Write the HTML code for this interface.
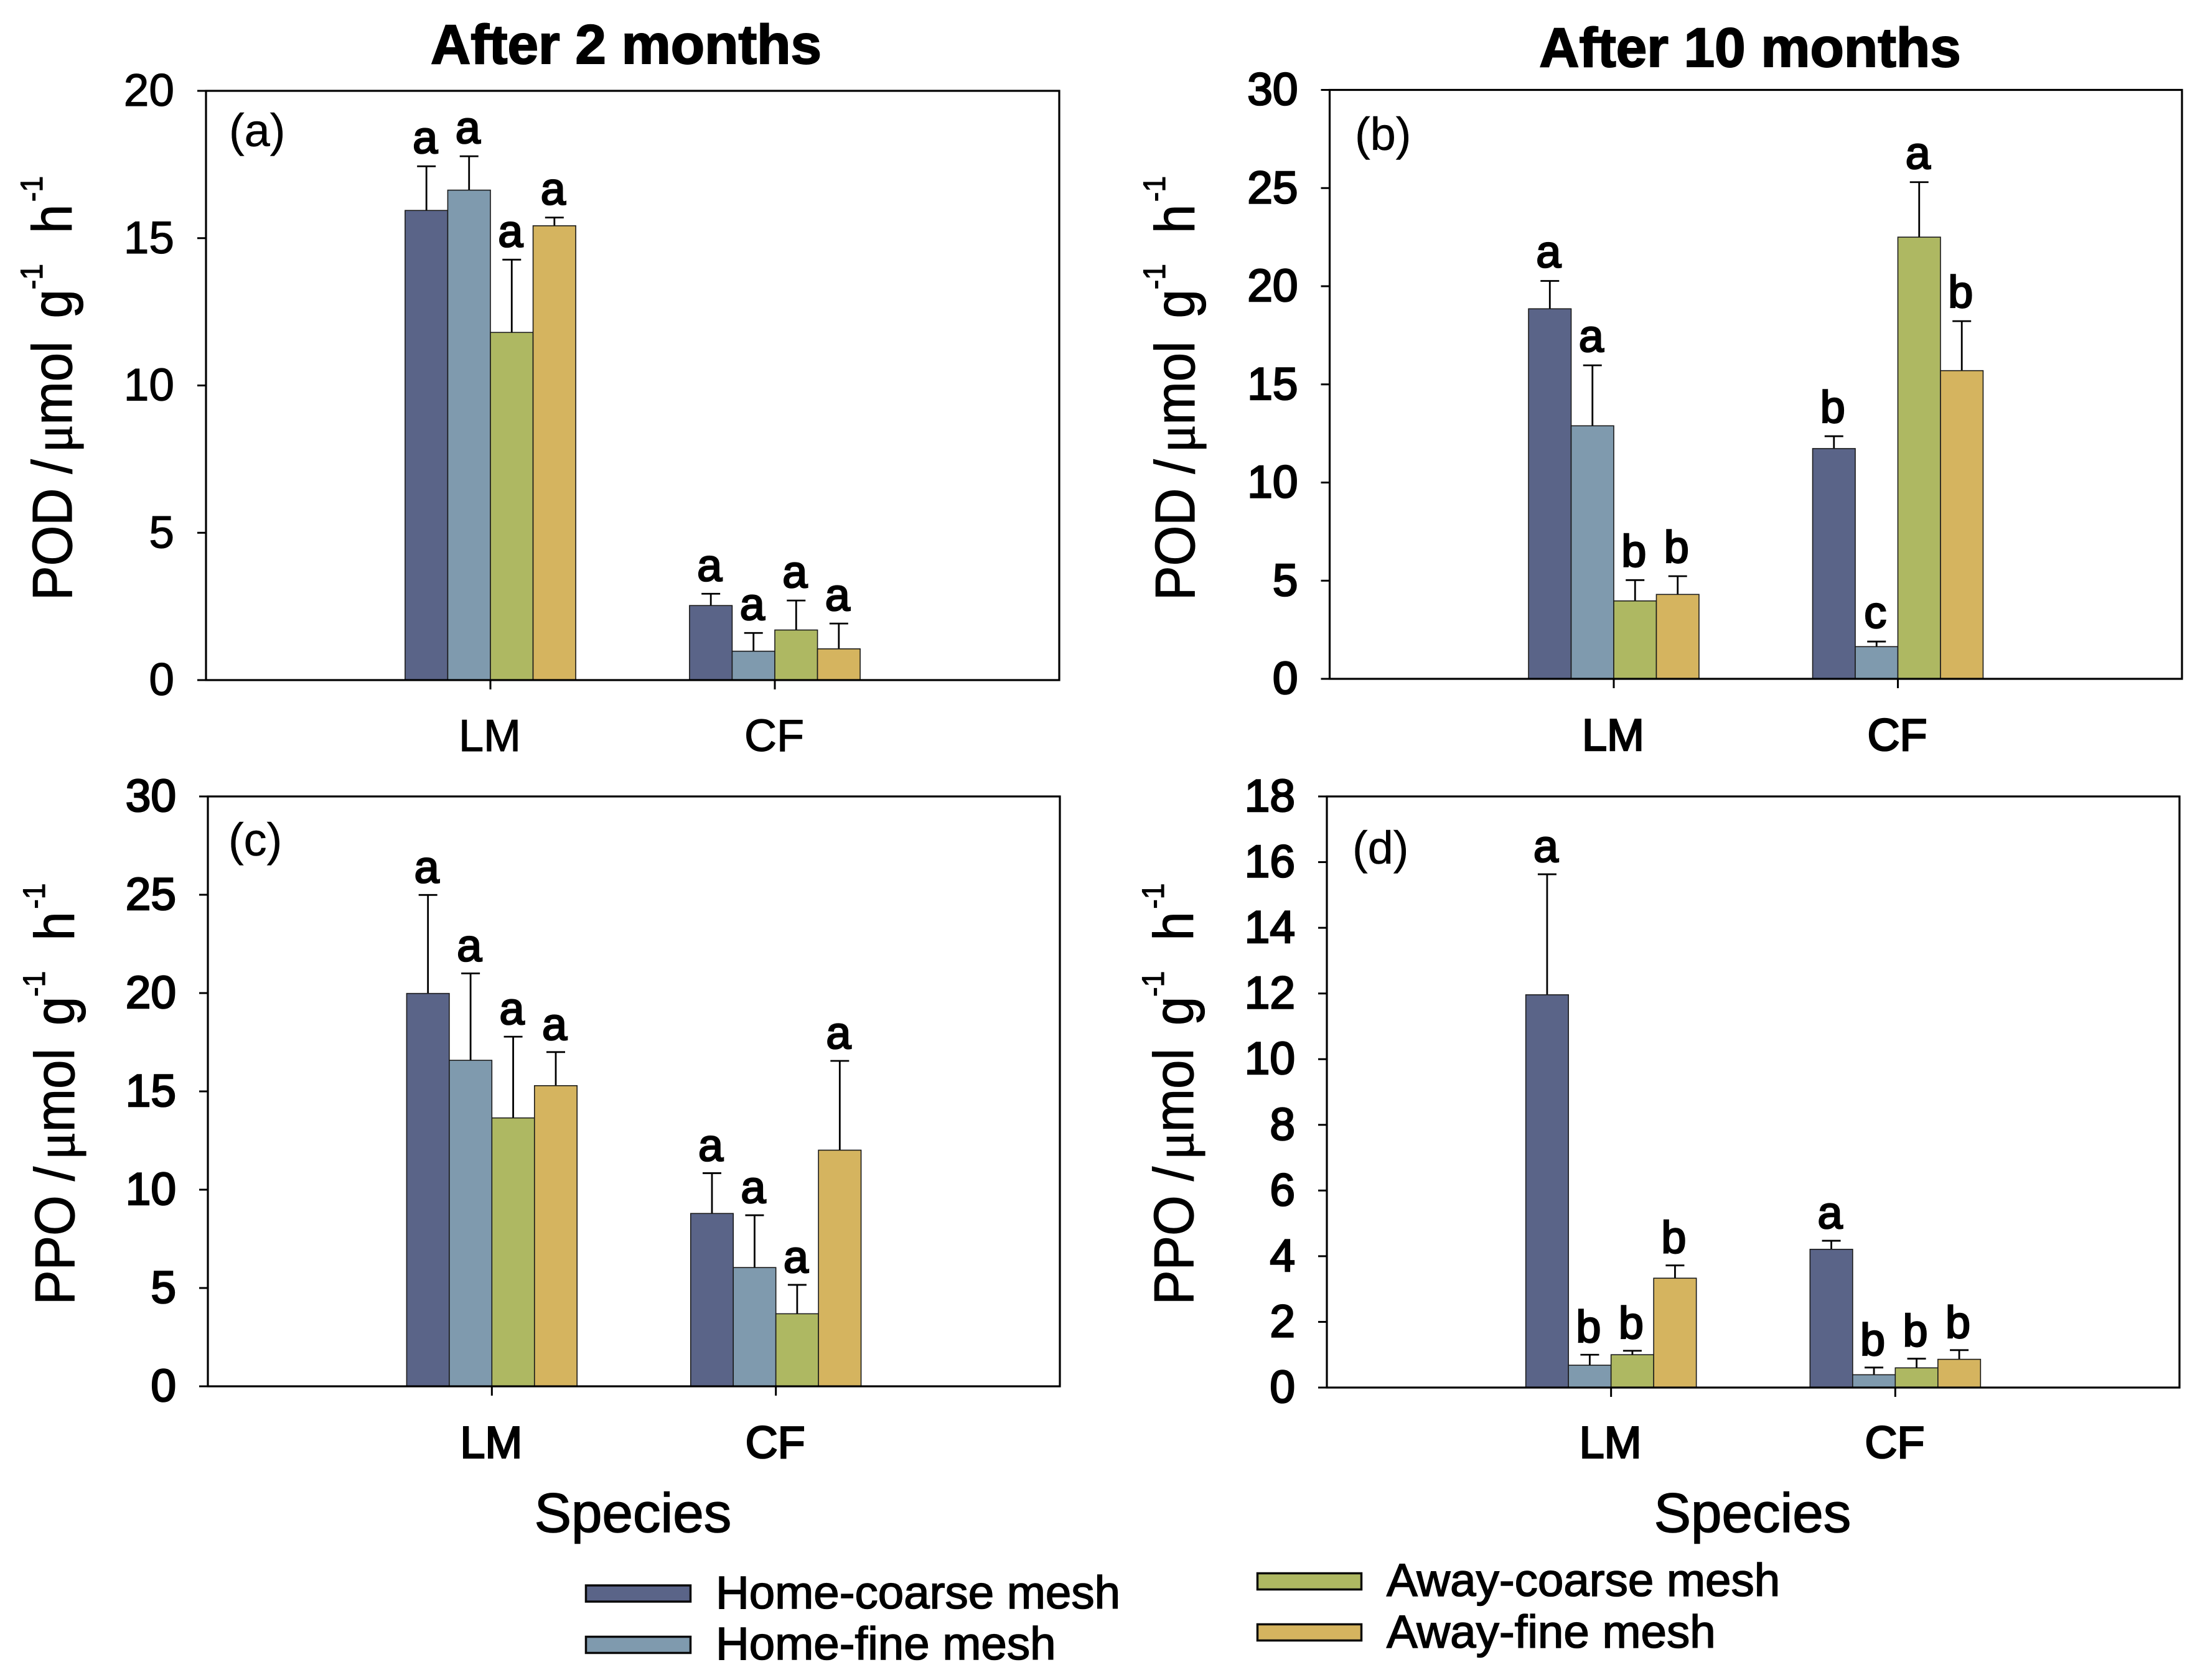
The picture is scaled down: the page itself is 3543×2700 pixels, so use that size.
<!DOCTYPE html>
<html>
<head>
<meta charset="utf-8">
<title>POD and PPO after 2 and 10 months</title>
<style>
html,body{margin:0;padding:0;background:#fff;}
svg{display:block;}
text{font-family:"Liberation Sans",Arial,sans-serif;fill:#000;stroke:#000;}
</style>
</head>
<body>
<svg id="chart" xmlns="http://www.w3.org/2000/svg" width="3543" height="2700" viewBox="0 0 3543 2700">
  <rect x="0" y="0" width="3543" height="2700" fill="#fff"/>

  <text x="1006" y="102" text-anchor="middle" font-size="89" font-weight="bold" stroke-width="2">After 2 months</text>
  <text x="2812" y="107" text-anchor="middle" font-size="89" font-weight="bold" stroke-width="2">After 10 months</text>

  <text transform="translate(115,965) rotate(-90) scale(.925,1)" font-size="90" stroke-width="1.2">POD /<tspan dx="12" font-family="Liberation Serif">μ</tspan>mol <tspan dx="15">g</tspan><tspan dy="-47" font-size="50">-1</tspan><tspan dx="28" dy="47"> h</tspan><tspan dx="5" dy="-47" font-size="50">-1</tspan></text>
  <text transform="translate(1919,965) rotate(-90) scale(.925,1)" font-size="90" stroke-width="1.2">POD /<tspan dx="12" font-family="Liberation Serif">μ</tspan>mol <tspan dx="15">g</tspan><tspan dy="-47" font-size="50">-1</tspan><tspan dx="28" dy="47"> h</tspan><tspan dx="5" dy="-47" font-size="50">-1</tspan></text>
  <text transform="translate(119,2097) rotate(-90) scale(.925,1)" font-size="90" stroke-width="1.2">PPO /<tspan dx="12" font-family="Liberation Serif">μ</tspan>mol <tspan dx="15">g</tspan><tspan dy="-47" font-size="50">-1</tspan><tspan dx="28" dy="47"> h</tspan><tspan dx="5" dy="-47" font-size="50">-1</tspan></text>
  <text transform="translate(1917,2097) rotate(-90) scale(.925,1)" font-size="90" stroke-width="1.2">PPO /<tspan dx="12" font-family="Liberation Serif">μ</tspan>mol <tspan dx="15">g</tspan><tspan dy="-47" font-size="50">-1</tspan><tspan dx="28" dy="47"> h</tspan><tspan dx="5" dy="-47" font-size="50">-1</tspan></text>

  <text x="1017" y="2462" text-anchor="middle" font-size="89" stroke-width="1.5">Species</text>
  <text x="2816" y="2462" text-anchor="middle" font-size="89" stroke-width="1.5">Species</text>

  <g>
    <rect x="941.5" y="2548" width="168" height="26" fill="#5A6488" stroke="#0a0a0a" stroke-width="3.5"/>
    <text x="1150" y="2585" font-size="74.5" stroke-width="1.6">Home-coarse mesh</text>
    <rect x="941.5" y="2630.5" width="168" height="26" fill="#7F9AAE" stroke="#0a0a0a" stroke-width="3.5"/>
    <text x="1150" y="2667" font-size="74.5" stroke-width="1.6">Home-fine mesh</text>
    <rect x="2020.5" y="2528.5" width="167" height="26" fill="#AEB862" stroke="#0a0a0a" stroke-width="3.5"/>
    <text x="2228" y="2565" font-size="74.5" stroke-width="1.6">Away-coarse mesh</text>
    <rect x="2020.5" y="2610.5" width="167" height="26" fill="#D5B45F" stroke="#0a0a0a" stroke-width="3.5"/>
    <text x="2228" y="2648" font-size="74.5" stroke-width="1.6">Away-fine mesh</text>
  </g>
</svg>
<script>
const categories = ['LM', 'CF'];
const seriesNames = ['home-coarse', 'home-fine', 'away-coarse', 'away-fine'];
const seriesColors = ['#5A6488', '#7F9AAE', '#AEB862', '#D5B45F'];

const ticksA = [0, 5, 10, 15, 20];
const meansA = [[15.94, 16.63, 11.8, 15.42], [2.53, 0.98, 1.7, 1.06]];
const errorsA = [[1.5, 1.15, 2.47, 0.28], [0.4, 0.62, 1.0, 0.86]];
const lettersA = [['a', 'a', 'a', 'a'], ['a', 'a', 'a', 'a']];

const ticksB = [0, 5, 10, 15, 20, 25, 30];
const meansB = [[18.85, 12.89, 3.97, 4.3], [11.73, 1.64, 22.5, 15.7]];
const errorsB = [[1.42, 3.08, 1.06, 0.93], [0.63, 0.26, 2.8, 2.52]];
const lettersB = [['a', 'a', 'b', 'b'], ['b', 'c', 'a', 'b']];

const ticksC = [0, 5, 10, 15, 20, 25, 30];
const meansC = [[19.98, 16.58, 13.65, 15.29], [8.79, 6.04, 3.69, 12.01]];
const errorsC = [[5.01, 4.42, 4.13, 1.71], [2.05, 2.66, 1.47, 4.54]];
const lettersC = [['a', 'a', 'a', 'a'], ['a', 'a', 'a', 'a']];

const ticksD = [0, 2, 4, 6, 8, 10, 12, 14, 16, 18];
const meansD = [[11.96, 0.68, 1.0, 3.33], [4.21, 0.39, 0.6, 0.86]];
const errorsD = [[3.67, 0.32, 0.12, 0.39], [0.26, 0.22, 0.28, 0.28]];
const lettersD = [['a', 'b', 'b', 'b'], ['a', 'b', 'b', 'b']];

const svg = document.getElementById('chart');
const NS = 'http://www.w3.org/2000/svg';

function make(parent, tag, props, content) {
  const el = document.createElementNS(NS, tag);
  for (const k in props) {
    el.setAttribute(k, props[k]);
  }
  if (content !== undefined) {
    el.textContent = content;
  }
  parent.appendChild(el);
  return el;
}

function drawPanel(p) {
  const xScale = function (f) { return p.left + f * (p.right - p.left); };
  const yScale = function (v) { return p.bottom - (v / p.yMax) * (p.bottom - p.top); };
  const barW = 0.05 * (p.right - p.left);

  const g = make(svg, 'g', {});
  
  

  const marks = make(g, 'g', {});
  
  

  categories.forEach(function (cat, c) {
    const cx = xScale((c + 1) / 3);
    p.means[c].forEach(function (mean, s) {
      const x0 = cx + (s - 2) * barW;
      const mid = x0 + barW / 2;
      const topY = yScale(mean + p.errors[c][s]);

      const stem = make(marks, 'line', { x1: mid, x2: mid, y1: yScale(mean), y2: topY, stroke: '#000', 'stroke-width': 2.8 });
      
      

      const cap = make(marks, 'line', { x1: mid - 15, x2: mid + 15, y1: topY, y2: topY, stroke: '#000', 'stroke-width': 2.8 });
      
      

      const bar = make(marks, 'rect', { x: x0, y: yScale(mean), width: barW, height: p.bottom - yScale(mean), fill: seriesColors[s], stroke: '#1a1a1a', 'stroke-width': 1.6 });
      
      

      const letter = make(marks, 'text', { x: mid - 2, y: topY - p.letterGap, 'text-anchor': 'middle', 'font-size': 72, 'stroke-width': 2.6 }, p.letters[c][s]);
      
      
    });

    const tick = make(g, 'line', { x1: cx, x2: cx, y1: p.bottom, y2: p.bottom + 15, stroke: '#000', 'stroke-width': 3 });
    
    

    const label = make(g, 'text', { x: cx - 1, y: p.catBaseline, 'text-anchor': 'middle', 'font-size': 72, 'stroke-width': p.labelStroke }, cat);
    
    
  });

  const frame = make(g, 'rect', { x: p.left, y: p.top, width: p.right - p.left, height: p.bottom - p.top, fill: 'none', stroke: '#000', 'stroke-width': 3.2 });
  
  

  p.ticks.forEach(function (t) {
    const y = yScale(t);
    const tk = make(g, 'line', { x1: p.left - 14, x2: p.left, y1: y, y2: y, stroke: '#000', 'stroke-width': 3 });
    
    

    const lb = make(g, 'text', { x: p.left - 51, y: y + 24, 'text-anchor': 'end', 'font-size': 73, 'stroke-width': p.labelStroke }, String(t));
    
    
  });

  const tag = make(g, 'text', { x: p.tagX, y: p.tagY, 'font-size': 74, 'stroke-width': 0.5 }, '(' + p.id + ')');
  
  
}

drawPanel({ id: 'a', left: 331, right: 1702, top: 146, bottom: 1093, yMax: 20, ticks: ticksA, means: meansA, errors: errorsA, letters: lettersA, letterGap: 21, catBaseline: 1207, labelStroke: 1.2, tagX: 368, tagY: 235 });
drawPanel({ id: 'b', left: 2136.5, right: 3506, top: 144.5, bottom: 1091, yMax: 30, ticks: ticksB, means: meansB, errors: errorsB, letters: lettersB, letterGap: 22, catBaseline: 1206, labelStroke: 2.6, tagX: 2177, tagY: 241 });
drawPanel({ id: 'c', left: 334, right: 1703, top: 1280, bottom: 2228, yMax: 30, ticks: ticksC, means: meansC, errors: errorsC, letters: lettersC, letterGap: 20, catBaseline: 2343, labelStroke: 2.6, tagX: 367, tagY: 1375 });
drawPanel({ id: 'd', left: 2132, right: 3502, top: 1280, bottom: 2230, yMax: 18, ticks: ticksD, means: meansD, errors: errorsD, letters: lettersD, letterGap: 20, catBaseline: 2343, labelStroke: 2.6, tagX: 2173, tagY: 1388 });
</script>
</body>
</html>
